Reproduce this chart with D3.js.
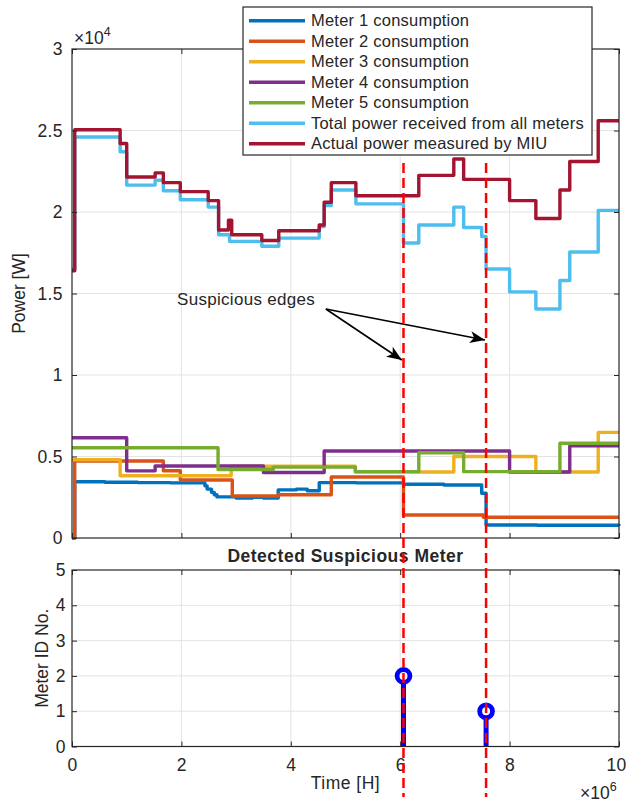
<!DOCTYPE html>
<html><head><meta charset="utf-8">
<script src="https://cdn.jsdelivr.net/npm/d3@7"></script>
<style>
body{margin:0;background:#fff;}
svg text{font-family:"Liberation Sans",Arial,Helvetica,sans-serif;fill:#262626;}
</style>
</head><body>
<svg id="c" width="628" height="804"></svg>
<script>
// ---------------- DATA (time in 1e6 H, power in W) ----------------
const seriesNames = ["Meter 1 consumption","Meter 2 consumption","Meter 3 consumption",
  "Meter 4 consumption","Meter 5 consumption","Total power received from all meters",
  "Actual power measured by MIU"];
const seriesColors = ["#0072BD","#D95319","#EDB120","#7E2F8E","#77AC30","#4DBEEE","#A2142F"];

const meter1T = [0, 0.05, 0.6, 1.2, 1.8, 2.43, 2.47, 2.55, 2.6, 2.65, 3.0, 3.3, 3.5, 3.77, 4.1, 4.3, 4.52, 5.2, 6.06, 6.8, 7.49, 7.57, 8.5, 10];
const meter1V = [0, 3450, 3420, 3400, 3380, 3200, 3000, 2800, 2650, 2520, 2450, 2500, 2450, 2950, 3000, 2900, 3400, 3380, 3300, 3250, 2750, 800, 780, 750];
const meter2T = [0, 0.05, 1.67, 1.98, 2.93, 3.77, 4.74, 6.06, 7.52, 10];
const meter2V = [0, 4720, 4130, 3560, 2580, 2650, 3740, 1410, 1270, 1270];
const meter3T = [0, 0.88, 2.91, 5.18, 6.98, 8.48, 9.62, 10];
const meter3V = [4800, 3820, 4400, 4050, 5000, 4050, 6480, 6480];
const meter4T = [0, 1.0, 1.52, 3.5, 4.61, 8.0, 9.1, 10];
const meter4V = [6150, 4120, 4420, 4020, 5340, 4050, 5660, 5660];
const meter5T = [0, 2.67, 3.68, 5.18, 6.34, 7.16, 8.92, 10];
const meter5V = [5540, 4200, 4350, 4070, 5230, 4070, 5810, 5810];
const totalT = [0, 0.05, 0.88, 1.0, 1.52, 1.67, 1.98, 2.49, 2.68, 2.88, 3.47, 3.78, 4.52, 4.61, 4.74, 5.19, 6.06, 6.34, 6.98, 7.16, 7.49, 7.57, 8.0, 8.48, 8.92, 9.1, 9.62, 10];
const totalV = [16500, 24600, 23700, 21650, 21950, 21300, 20750, 20300, 18600, 18200, 17900, 18400, 19100, 20400, 21350, 20500, 18100, 19200, 20300, 19050, 18500, 16500, 15100, 14050, 15800, 17550, 20100, 20100];
const actualT = [0, 0.05, 0.88, 1.0, 1.52, 1.67, 1.98, 2.49, 2.68, 2.86, 2.92, 3.47, 3.78, 4.52, 4.61, 4.74, 5.19, 6.34, 6.98, 7.16, 8.0, 8.48, 8.92, 9.1, 9.62, 10];
const actualV = [16400, 25050, 24200, 22150, 22400, 21800, 21250, 20700, 18900, 19500, 18600, 18250, 18850, 19200, 20600, 21800, 21000, 22250, 23250, 22000, 20700, 19600, 21350, 23100, 25600, 25600];

const edgeT = [6.06, 7.57];          // suspicious edges (dashed lines)
const detectedMeter = [2, 1];        // stem values
const xTicks = [0, 2, 4, 6, 8, 10];
const yTopTicks = [0, 5000, 10000, 15000, 20000, 25000, 30000];
const yBotTicks = [0, 1, 2, 3, 4, 5];
const annotText = "Suspicious edges";
const annotStart = [4.64, 14050];
const annotEnds = [[6.03, 10920], [7.55, 12150]];
const annotPos = [1.92, 14660];
const edgeTopV = 23000, edgeBotV = -1.43;

// ---------------- LAYOUT ----------------
const svg = d3.select("#c");
const L = 72, R = 619;
const TT = 49, TB = 538, BT = 570, BB = 746.5;
const AX = "#262626", GRID = "#e3e3e3";

const x = d3.scaleLinear().domain([0, 10]).range([L, R]);
const yTop = d3.scaleLinear().domain([0, 30000]).range([TB, TT]);
const yBot = d3.scaleLinear().domain([0, 5]).range([BB, BT]);

const series = [
  [meter1T, meter1V],[meter2T, meter2V],[meter3T, meter3V],[meter4T, meter4V],
  [meter5T, meter5V],[totalT, totalV],[actualT, actualV]
].map(([t, v]) => t.map((d, i) => [d, v[i]]));

function grid(g, yScale, yTicks, top, bottom) {
  g.append("g").selectAll("line").data(xTicks.slice(1, -1)).join("line")
    .attr("x1", d => x(d)).attr("x2", d => x(d)).attr("y1", top).attr("y2", bottom)
    .attr("stroke", GRID).attr("stroke-width", 1);
  g.append("g").selectAll("line").data(yTicks.slice(1, -1)).join("line")
    .attr("x1", L).attr("x2", R).attr("y1", d => yScale(d)).attr("y2", d => yScale(d))
    .attr("stroke", GRID).attr("stroke-width", 1);
}

function axes(yScale, yTicks, top, bottom, yFmt, xLabels, yPad) {
  const g = svg.append("g");
  const tidy = sel => { sel.select(".domain").remove(); sel.selectAll(".tick line").attr("stroke", AX); sel.selectAll("text").attr("fill", AX); };
  g.append("g").attr("transform", `translate(${L},0)`)
    .call(d3.axisLeft(yScale).tickValues(yTicks).tickSizeInner(-5).tickSizeOuter(0).tickPadding(yPad).tickFormat(yFmt))
    .call(tidy).selectAll("text").style("font-size", "17.5px").style("letter-spacing", "0.4px");
  g.append("g").attr("transform", `translate(${R},0)`)
    .call(d3.axisRight(yScale).tickValues(yTicks).tickSizeInner(-5).tickSizeOuter(0).tickFormat(""))
    .call(tidy);
  g.append("g").attr("transform", `translate(0,${top})`)
    .call(d3.axisTop(x).tickValues(xTicks).tickSizeInner(-5).tickSizeOuter(0).tickFormat(""))
    .call(tidy);
  g.append("g").attr("transform", `translate(0,${bottom})`)
    .call(d3.axisBottom(x).tickValues(xTicks).tickSizeInner(-5).tickSizeOuter(0).tickPadding(12)
      .tickFormat(xLabels ? d3.format("d") : ""))
    .call(tidy).selectAll("text").style("font-size", "17.5px").style("letter-spacing", "0.4px")
    .attr("dx", d => d === 10 ? -3 : 0);
  g.selectAll("text").attr("font-family", null);
  g.append("rect").attr("x", L).attr("y", top).attr("width", R - L).attr("height", bottom - top)
    .attr("fill", "none").attr("stroke", AX).attr("stroke-width", 1.2);
}

// ---------------- TOP PANEL ----------------
const gTop = svg.append("g");
grid(gTop, yTop, yTopTicks, TT, TB);
const lineTop = d3.line().x(d => x(d[0])).y(d => yTop(d[1])).curve(d3.curveStepAfter);
gTop.append("g").selectAll("path").data(series).join("path")
  .attr("d", lineTop).attr("fill", "none")
  .attr("stroke", (d, i) => seriesColors[i]).attr("stroke-width", 3.4)
  .attr("stroke-linejoin", "round");
axes(yTop, yTopTicks, TT, TB, d => d3.format("")(d / 10000), false, 9);

// exponent label
const ex4 = svg.append("text").attr("x", 74).attr("y", 44).style("font-size", "17.5px");
ex4.append("tspan").text("\u00D710");
ex4.append("tspan").attr("dy", -8).style("font-size", "12.5px").text("4");

svg.append("text").attr("transform", `translate(25,${(TT + TB) / 2}) rotate(-90)`)
  .attr("text-anchor", "middle").style("font-size", "17.5px").text("Power [W]");

// ---------------- BOTTOM PANEL ----------------
const gBot = svg.append("g");
grid(gBot, yBot, yBotTicks, BT, BB);
const stems = gBot.append("g");
stems.selectAll("line").data(edgeT).join("line")
  .attr("x1", d => x(d)).attr("x2", d => x(d))
  .attr("y1", yBot(0)).attr("y2", (d, i) => yBot(detectedMeter[i]))
  .attr("stroke", "#0000FF").attr("stroke-width", 5);
stems.selectAll("circle").data(edgeT).join("circle")
  .attr("cx", d => x(d)).attr("cy", (d, i) => yBot(detectedMeter[i])).attr("r", 6.4)
  .attr("fill", "#fff").attr("stroke", "#0000FF").attr("stroke-width", 4.8);
axes(yBot, yBotTicks, BT, BB, d3.format("d"), true, 6);

svg.append("text").attr("x", (L + R) / 2).attr("y", BT - 8).attr("text-anchor", "middle")
  .style("font-size", "17.5px").style("font-weight", "bold").attr("fill", "#000")
  .style("letter-spacing", "0.5px").text("Detected Suspicious Meter");
svg.append("text").attr("x", (L + R) / 2).attr("y", 789).attr("text-anchor", "middle")
  .style("font-size", "17.5px").style("letter-spacing", "0.5px").text("Time [H]");
svg.append("text").attr("transform", `translate(48,${(BT + BB) / 2}) rotate(-90)`)
  .attr("text-anchor", "middle").style("font-size", "17.5px").text("Meter ID No.");
const ex6 = svg.append("text").attr("x", 580).attr("y", 799).style("font-size", "17.5px");
ex6.append("tspan").text("\u00D710");
ex6.append("tspan").attr("dy", -8).style("font-size", "12.5px").text("6");

// ---------------- DASHED EDGE LINES ----------------
svg.append("g").selectAll("line").data(edgeT).join("line")
  .attr("x1", d => x(d)).attr("x2", d => x(d))
  .attr("y1", yTop(edgeTopV)).attr("y2", yBot(edgeBotV))
  .attr("stroke", "#FF0000").attr("stroke-width", 2.5).attr("stroke-dasharray", "10,5");

// ---------------- ANNOTATION ----------------
const defs = svg.append("defs");
defs.append("marker").attr("id", "ah").attr("viewBox", "-16 -7 18 14")
  .attr("refX", 0).attr("refY", 0).attr("markerWidth", 18).attr("markerHeight", 14)
  .attr("markerUnits", "userSpaceOnUse").attr("orient", "auto")
  .append("path").attr("d", "M0,0 L-15,-6 L-11,0 L-15,6 Z").attr("fill", "#000");
svg.append("g").selectAll("line").data(annotEnds).join("line")
  .attr("x1", x(annotStart[0])).attr("y1", yTop(annotStart[1]))
  .attr("x2", d => x(d[0])).attr("y2", d => yTop(d[1]))
  .attr("stroke", "#000").attr("stroke-width", 1.6).attr("marker-end", "url(#ah)");
svg.append("text").attr("x", x(annotPos[0])).attr("y", yTop(annotPos[1])).attr("dy", "0.35em")
  .style("font-size", "17px").style("letter-spacing", "0.3px").attr("fill", "#000").text(annotText);

// ---------------- LEGEND ----------------
const lg = svg.append("g");
lg.append("rect").attr("x", 243).attr("y", 7).attr("width", 349).attr("height", 148)
  .attr("fill", "#fff").attr("stroke", AX).attr("stroke-width", 1.2);
const rows = lg.selectAll("g").data(seriesNames).join("g")
  .attr("transform", (d, i) => `translate(0,${20.7 + i * 20.5})`);
rows.append("line").attr("x1", 249).attr("x2", 305).attr("y1", 0).attr("y2", 0)
  .attr("stroke", (d, i) => seriesColors[i]).attr("stroke-width", 3.4);
rows.append("text").attr("x", 311).attr("y", 0).attr("dy", "0.35em")
  .style("font-size", "16.5px").style("letter-spacing", "0.22px").text(d => d);
</script>
</body></html>
